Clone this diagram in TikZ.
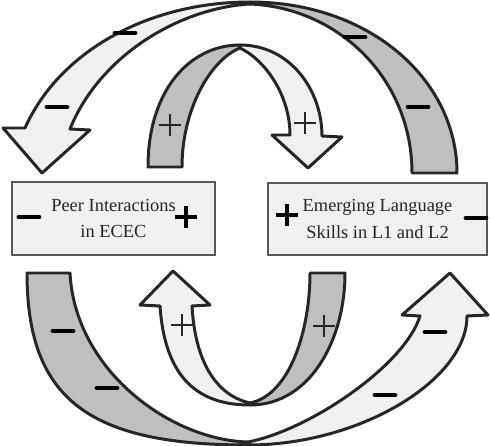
\documentclass[tikz,border=0pt]{standalone}
\usepackage{fontspec}
\setmainfont{Liberation Serif}
\begin{document}
\begin{tikzpicture}[x=0.02cm,y=-0.02cm,
    band/.style={draw=black!85, line width=1.7pt, line join=round},
    light/.style={band, fill=black!6},
    dark/.style={band, fill=black!25},
    box/.style={draw=black!65, line width=0.7pt, fill=black!6, text=black!85, align=center,
        minimum width=4.06cm, minimum height=1.46cm,
        font=\fontsize{10.5}{15.3}\selectfont},
    minus/.style={line width=2.8pt, line cap=round},
    plus/.style={line width=1.1pt, black!85},
    boldplus/.style={line width=2.8pt}]
    \useasboundingbox (0,0) rectangle (490,446);
    % outer loop, top
    \draw[light] (250,2) .. controls (150,2) and (60,50) .. (25,128) -- (3,128) -- (42,173) -- (90,130) -- (70,129)
        .. controls (100,55) and (180,8) .. (250,4) -- cycle;
    \draw[dark] (250,2) .. controls (370,2) and (457,80) .. (457,173) -- (412,173)
        .. controls (412,80) and (340,8) .. (250,4) -- cycle;
    % outer loop, bottom
    \draw[dark] (248,445) .. controls (90,445) and (27,400) .. (27,273) -- (70,273)
        .. controls (75,370) and (170,440) .. (248,442) -- cycle;
    \draw[light] (248,445) .. controls (360,445) and (467,380) .. (467,316) -- (488,315) -- (450,273) -- (402,315) -- (420,316)
        .. controls (405,365) and (310,430) .. (248,442) -- cycle;
    % inner loop, top
    \draw[dark] (240,45) .. controls (190,45) and (148,90) .. (148,167) -- (182,167)
        .. controls (182,110) and (210,60) .. (240,48) -- cycle;
    \draw[light] (240,45) .. controls (290,45) and (322,90) .. (322,136) -- (342,137) -- (308,168) -- (272,135) -- (290,135)
        .. controls (290,95) and (265,60) .. (240,48) -- cycle;
    % inner loop, bottom
    \draw[light] (250,405) .. controls (200,405) and (165,380) .. (160,306) -- (140,305) -- (173,271) -- (210,305) -- (192,306)
        .. controls (195,360) and (215,395) .. (250,403) -- cycle;
    \draw[dark] (250,405) .. controls (310,405) and (345,340) .. (345,273) -- (310,273)
        .. controls (310,330) and (290,395) .. (250,403) -- cycle;
    % signs on the loops
    \foreach \x/\y in {125/33, 57/107, 355/37, 418/107, 63/331, 107/388, 435/332, 385/395}
        {\draw[minus] (\x-10,\y) -- (\x+10,\y);}
    \foreach \x/\y in {170/125, 305/123, 182/325, 324/326}
        {\draw[plus] (\x-11,\y) -- (\x+11,\y) (\x,\y-11) -- (\x,\y+11);}
    % boxes
    \node[box] (peer) at (113.5,218.5) {Peer Interactions\\in ECEC};
    \node[box, minimum width=4.38cm, minimum height=1.44cm] (lang) at (377.5,219) {Emerging Language\\Skills in L1 and L2};
    \foreach \x/\y in {29/217, 476/218}
        {\draw[minus] (\x-10,\y) -- (\x+10,\y);}
    \foreach \x/\y in {186/217, 287/215}
        {\draw[boldplus] (\x-11,\y) -- (\x+11,\y) (\x,\y-11) -- (\x,\y+11);}
\end{tikzpicture}
\end{document}
